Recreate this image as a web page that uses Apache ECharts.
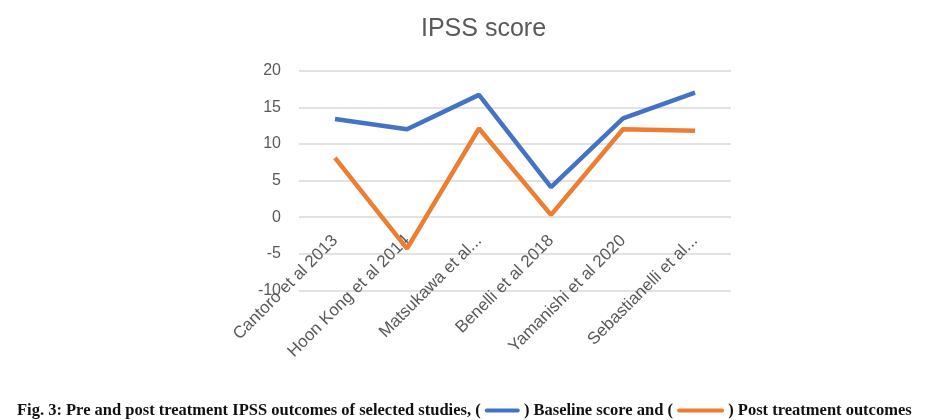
<!DOCTYPE html>
<html>
<head>
<meta charset="utf-8">
<script src="https://cdn.jsdelivr.net/npm/echarts@6/dist/echarts.min.js"></script>
<style>
html,body{margin:0;padding:0;background:#fff;}
#chart{width:940px;height:420px;}
</style>
</head>
<body>
<div id="chart"></div>
<script>
const categories = ['Cantoro et al 2013', 'Hoon Kong et al 2014', 'Matsukawa et al...', 'Benelli et al 2018', 'Yamanishi et al 2020', 'Sebastianelli et al...'];
const baselineScore = [13.4, 12.0, 16.7, 4.1, 13.5, 17.0];
const postTreatment = [8.1, -4.3, 12.1, 0.3, 12.0, 11.8];
const yTicks = { min: -10, max: 20, interval: 5 };

const gridTop = 70.7, gridHeight = 219.6;
const zeroOffset = -gridHeight * (0 - yTicks.min) / (yTicks.max - yTicks.min);

const chart = echarts.init(document.getElementById('chart'));
chart.setOption({
  animation: false,
  backgroundColor: '#ffffff',
  title: [{
    text: 'IPSS score',
    left: 416,
    top: 12,
    textStyle: { fontFamily: 'Liberation Sans', fontSize: 25, fontWeight: 'normal', color: '#595959' }
  }, {
    text: 'Fig. 3: Pre and post treatment IPSS outcomes of selected studies, ( {b|} ) Baseline score and ( {o|} ) Post treatment outcomes',
    left: 12,
    top: 397,
    textStyle: {
      fontFamily: 'Liberation Serif', fontSize: 16.5, fontWeight: 'bold', color: '#111',
      rich: {
        b: { width: 35, height: 4, backgroundColor: '#4472C4', borderRadius: 2 },
        o: { width: 47, height: 4, backgroundColor: '#ED7D31', borderRadius: 2 }
      }
    }
  }],
  grid: { left: 299, right: 209, top: gridTop, height: gridHeight, containLabel: false },
  xAxis: {
    type: 'category',
    data: categories,
    boundaryGap: true,
    offset: zeroOffset,
    z: 1,
    axisLine: { show: false, onZero: false },
    axisTick: { show: false },
    axisLabel: { rotate: 45, margin: 21, interval: 0, fontFamily: 'Liberation Sans', fontSize: 17, color: '#595959' }
  },
  yAxis: {
    type: 'value',
    min: yTicks.min,
    max: yTicks.max,
    interval: yTicks.interval,
    z: 1,
    axisLine: { show: false },
    axisTick: { show: false },
    axisLabel: { margin: 18, fontFamily: 'Liberation Sans', fontSize: 16, color: '#595959' },
    splitLine: { lineStyle: { color: '#D9D9D9', width: 1.5 } }
  },
  series: [{
    name: 'Baseline score',
    type: 'line',
    data: baselineScore,
    symbol: 'none',
    z: 5,
    lineStyle: { color: '#4472C4', width: 4.5 },
    itemStyle: { color: '#4472C4' }
  }, {
    name: 'Post treatment outcomes',
    type: 'line',
    data: postTreatment,
    symbol: 'none',
    z: 5,
    lineStyle: { color: '#ED7D31', width: 4.5 },
    itemStyle: { color: '#ED7D31' }
  }]
});
</script>
</body>
</html>
